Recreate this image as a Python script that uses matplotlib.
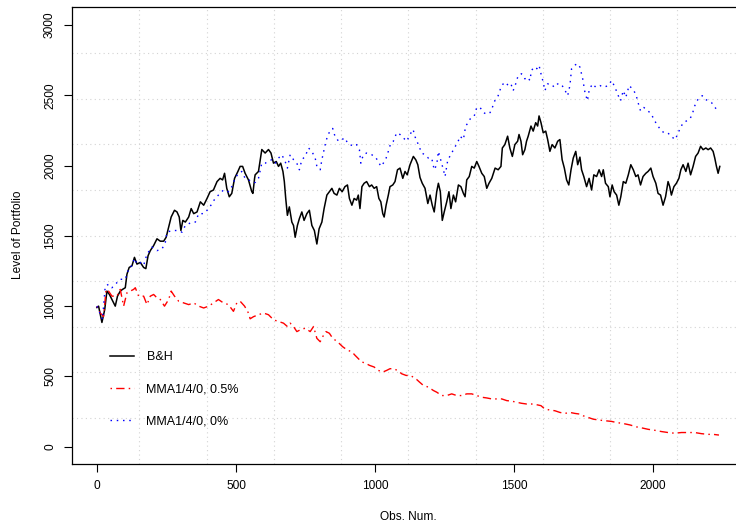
import matplotlib
matplotlib.use("Agg")
import matplotlib.pyplot as plt
import numpy as np

# ---- data: portfolio levels at selected observation numbers ----
bh_obs = [0, 6, 12, 18, 28, 36, 45, 54, 66, 74, 84, 92, 102, 108, 116, 126, 135, 144, 156, 168,
          176, 184, 192, 204, 216, 228, 240, 249, 258, 267, 279, 288, 296, 302, 309, 318, 330, 339,
          348, 360, 372, 384, 396, 407, 419, 432, 443, 452, 459, 467, 476, 485, 495, 507, 515, 524,
          533, 545, 552, 557, 561, 567, 569, 581, 593, 605, 617, 626, 635, 645, 653, 661, 669, 674,
          679, 685, 692, 701, 707, 713, 721, 728, 737, 745, 755, 764, 773, 782, 791, 799, 809, 817,
          827, 836, 845, 853, 863, 872, 882, 892, 901, 908, 917, 925, 934, 940, 946, 953, 961, 970,
          980, 988, 997, 1006, 1014, 1021, 1028, 1033, 1040, 1048, 1054, 1064, 1072, 1081, 1090,
          1100, 1108, 1116, 1126, 1138, 1147, 1154, 1162, 1170, 1180, 1190, 1198, 1206, 1213, 1222,
          1228, 1235, 1242, 1249, 1258, 1266, 1273, 1282, 1290, 1300, 1309, 1318, 1324, 1330, 1339,
          1348, 1357, 1366, 1374, 1384, 1393, 1402, 1410, 1420, 1432, 1443, 1453, 1458, 1467, 1477,
          1485, 1494, 1503, 1513, 1518, 1525, 1531, 1539, 1545, 1551, 1561, 1569, 1578, 1585, 1590,
          1597, 1605, 1614, 1621, 1629, 1637, 1647, 1657, 1665, 1673, 1681, 1689, 1697, 1705, 1713,
          1722, 1729, 1737, 1743, 1751, 1761, 1770, 1779, 1787, 1797, 1806, 1815, 1821, 1829, 1839,
          1845, 1853, 1860, 1869, 1877, 1884, 1893, 1902, 1911, 1920, 1929, 1938, 1946, 1955, 1964,
          1974, 1982, 1992, 2000, 2010, 2018, 2027, 2036, 2045, 2054, 2060, 2066, 2075, 2084, 2093,
          2100, 2108, 2118, 2126, 2135, 2144, 2153, 2162, 2171, 2180, 2190, 2198, 2207, 2216, 2222,
          2228, 2234, 2240]
bh_val = [990, 1000, 940, 884, 975, 1107, 1083, 1047, 1000, 1071, 1107, 1119, 1131, 1227, 1275, 1287,
          1347, 1299, 1311, 1275, 1267, 1359, 1395, 1431, 1479, 1462, 1462, 1490, 1562, 1634, 1682,
          1670, 1634, 1538, 1610, 1598, 1634, 1694, 1658, 1670, 1742, 1718, 1766, 1814, 1826, 1886,
          1909, 1898, 1945, 1838, 1778, 1802, 1909, 1958, 1994, 1994, 1945, 1898, 1850, 1814, 1802,
          1909, 1934, 1958, 2114, 2089, 2114, 2089, 2017, 2029, 1994, 2017, 1958, 1886, 1766, 1646,
          1706, 1598, 1574, 1490, 1574, 1622, 1670, 1610, 1658, 1682, 1574, 1538, 1442, 1550, 1598,
          1694, 1790, 1814, 1838, 1802, 1790, 1838, 1814, 1850, 1862, 1766, 1718, 1766, 1754, 1790,
          1694, 1850, 1874, 1886, 1850, 1862, 1838, 1850, 1766, 1742, 1658, 1634, 1718, 1790, 1850,
          1862, 1886, 1970, 1982, 1909, 1958, 1934, 2006, 2065, 2040, 2006, 1915, 1874, 1838, 1730,
          1790, 1718, 1670, 1814, 1874, 1814, 1610, 1670, 1742, 1814, 1694, 1790, 1742, 1862, 1850,
          1802, 1778, 1898, 1922, 1994, 1982, 2029, 1994, 1945, 1922, 1838, 1874, 1909, 1982, 1970,
          1994, 2125, 2149, 2209, 2125, 2065, 2149, 2173, 2221, 2173, 2077, 2113, 2173, 2209, 2281,
          2245, 2305, 2281, 2353, 2305, 2233, 2245, 2185, 2101, 2149, 2125, 2173, 2185, 2042, 1982,
          1898, 1862, 1970, 2053, 2101, 2006, 2060, 1970, 1922, 1850, 1909, 1826, 1934, 1922, 1970,
          1922, 1970, 1874, 1850, 1778, 1862, 1814, 1790, 1718, 1778, 1886, 1874, 1934, 2006, 1970,
          1922, 1934, 1862, 1922, 1945, 1958, 1982, 1922, 1874, 1802, 1790, 1718, 1778, 1886, 1850,
          1790, 1850, 1874, 1909, 1970, 2006, 1958, 2017, 1934, 1994, 2065, 2089, 2137, 2113, 2125,
          2113, 2125, 2101, 2053, 1994, 1945, 1994]

mma05_obs = [0, 12, 24, 33, 42, 54, 72, 84, 96, 108, 120, 132, 138, 150, 168, 180, 192, 204, 216,
             228, 243, 258, 267, 279, 294, 312, 330, 348, 366, 384, 402, 419, 437, 455, 473, 491,
             503, 515, 531, 545, 551, 563, 581, 599, 617, 635, 653, 671, 685, 695, 707, 719, 731,
             749, 767, 779, 791, 803, 812, 824, 836, 848, 865, 884, 901, 917, 928, 940, 952, 964,
             980, 997, 1012, 1028, 1042, 1054, 1066, 1081, 1096, 1112, 1126, 1138, 1150, 1160,
             1174, 1192, 1210, 1222, 1240, 1258, 1276, 1294, 1312, 1330, 1348, 1366, 1384, 1402,
             1420, 1438, 1456, 1474, 1492, 1510, 1527, 1545, 1563, 1581, 1597, 1611, 1629, 1647,
             1665, 1683, 1701, 1719, 1737, 1749, 1767, 1785, 1809, 1833, 1851, 1869, 1893, 1917,
             1941, 1964, 1982, 2006, 2030, 2054, 2078, 2102, 2126, 2150, 2174, 2198, 2216, 2237]
mma05_val = [1000, 951, 927, 1119, 1107, 1071, 1071, 1119, 1000, 1095, 1107, 1119, 1131, 1071, 1071,
             1011, 1071, 1083, 1059, 1047, 1000, 1047, 1107, 1071, 1035, 1023, 1011, 1023, 1000, 987,
             1000, 1023, 1047, 1023, 1011, 963, 1023, 1035, 1000, 951, 910, 925, 939, 951, 939, 903,
             891, 879, 855, 879, 855, 819, 831, 843, 819, 855, 771, 747, 783, 819, 807, 771, 747,
             711, 687, 675, 651, 627, 603, 596, 579, 567, 543, 531, 543, 555, 555, 543, 519, 507,
             507, 495, 478, 460, 436, 424, 400, 388, 364, 364, 376, 364, 364, 376, 376, 364, 352,
             347, 340, 340, 340, 328, 324, 316, 309, 304, 304, 299, 292, 268, 261, 256, 244, 237,
             244, 237, 232, 220, 208, 196, 189, 184, 180, 172, 165, 155, 141, 132, 124, 117, 108,
             101, 96, 101, 101, 101, 93, 88, 88, 83]

mma0_obs = [0, 12, 20, 30, 42, 54, 72, 84, 102, 116, 126, 135, 144, 156, 168, 180, 198, 216, 234,
            246, 252, 270, 288, 306, 318, 342, 354, 366, 384, 402, 414, 425, 437, 455, 473, 485,
            497, 509, 521, 533, 545, 560, 570, 581, 593, 605, 617, 629, 641, 653, 665, 677, 685,
            695, 707, 719, 728, 737, 749, 761, 773, 785, 791, 803, 809, 821, 829, 838, 848, 856,
            869, 881, 892, 901, 911, 923, 934, 944, 949, 958, 970, 988, 1000, 1012, 1021, 1030,
            1040, 1048, 1057, 1066, 1078, 1090, 1102, 1114, 1126, 1137, 1144, 1156, 1168, 1180,
            1192, 1204, 1213, 1222, 1228, 1238, 1246, 1252, 1262, 1273, 1285, 1297, 1306, 1318,
            1326, 1335, 1345, 1357, 1366, 1378, 1390, 1402, 1414, 1422, 1431, 1443, 1453, 1461,
            1470, 1479, 1489, 1497, 1506, 1515, 1527, 1539, 1549, 1557, 1563, 1573, 1582, 1590,
            1597, 1605, 1611, 1621, 1633, 1645, 1657, 1669, 1681, 1693, 1701, 1707, 1717, 1729,
            1737, 1747, 1755, 1764, 1771, 1783, 1794, 1809, 1823, 1839, 1851, 1863, 1875, 1883,
            1893, 1902, 1914, 1926, 1938, 1946, 1955, 1967, 1982, 1994, 2006, 2018, 2030, 2042,
            2054, 2062, 2072, 2081, 2087, 2096, 2108, 2120, 2132, 2141, 2150, 2158, 2168, 2177,
            2186, 2198, 2210, 2218, 2228, 2237]
mma0_val = [1000, 945, 905, 1143, 1155, 1131, 1167, 1191, 1191, 1275, 1287, 1340, 1300, 1310, 1290,
            1370, 1420, 1395, 1406, 1454, 1526, 1538, 1538, 1526, 1574, 1598, 1598, 1658, 1658, 1694,
            1730, 1766, 1790, 1826, 1814, 1850, 1909, 1945, 1958, 1909, 1900, 1880, 1880, 1909, 2017,
            2017, 2029, 2042, 2017, 2053, 2077, 2029, 1982, 2077, 2042, 2017, 1970, 2042, 2065, 2125,
            2101, 2053, 1994, 1970, 2042, 2149, 2209, 2245, 2264, 2209, 2173, 2185, 2197, 2161, 2149,
            2137, 2149, 2113, 2017, 2077, 2089, 2077, 2065, 2029, 1994, 2017, 2053, 2101, 2161, 2173,
            2233, 2221, 2197, 2173, 2221, 2257, 2205, 2149, 2089, 2077, 2053, 2053, 1970, 2006, 2101,
            2029, 1970, 1922, 2042, 2077, 2125, 2161, 2209, 2185, 2281, 2305, 2341, 2353, 2413, 2413,
            2377, 2365, 2377, 2413, 2461, 2497, 2557, 2581, 2593, 2569, 2581, 2533, 2581, 2641, 2653,
            2617, 2629, 2605, 2677, 2701, 2689, 2713, 2653, 2593, 2533, 2581, 2581, 2557, 2581, 2581,
            2545, 2497, 2569, 2689, 2713, 2725, 2700, 2617, 2521, 2461, 2545, 2581, 2557, 2569, 2557,
            2569, 2605, 2557, 2497, 2461, 2533, 2485, 2569, 2545, 2509, 2449, 2389, 2413, 2389, 2365,
            2317, 2281, 2245, 2233, 2233, 2209, 2197, 2185, 2221, 2257, 2305, 2317, 2329, 2365, 2425,
            2461, 2485, 2497, 2473, 2461, 2449, 2425, 2401, 2389]

series_labels = ["B&H", "MMA1/4/0, 0.5%", "MMA1/4/0, 0%"]
x_ticks = [0, 500, 1000, 1500, 2000]
y_ticks = [0, 500, 1000, 1500, 2000, 2500, 3000]

# ---- figure ----
plt.rcParams["font.family"] = ["Liberation Sans", "DejaVu Sans"]
W, H = 736, 527
fig = plt.figure(figsize=(W / 100, H / 100), dpi=100)

left_px, right_px, top_px, bottom_px = 72, 744.7, 7.4, 463.6
ax = fig.add_axes([left_px / W, 1 - bottom_px / H,
                   (right_px - left_px) / W, (bottom_px - top_px) / H])

n_obs = bh_obs[-1]
pad_x = 0.04 * n_obs
ax.set_xlim(-pad_x, n_obs + pad_x)
ax.set_ylim(-120, 3125)

# dotted grid dividing the plotting region into 10 x 10 cells
x0, x1 = ax.get_xlim()
y0, y1 = ax.get_ylim()
for k in range(1, 10):
    ax.axvline(x0 + k * (x1 - x0) / 10, color="#d3d3d3", lw=0.8, dashes=(1, 3), zorder=0)
    ax.axhline(y0 + k * (y1 - y0) / 10, color="#d3d3d3", lw=0.8, dashes=(1, 3), zorder=0)

ax.plot(bh_obs, bh_val, color="black", lw=1.1, label=series_labels[0], zorder=3)
ax.plot(mma05_obs, mma05_val, color="red", lw=1.0, dashes=(1.1, 3, 6, 3),
        label=series_labels[1], zorder=4)
ax.plot(mma0_obs, mma0_val, color="blue", lw=1.0, dashes=(1.1, 3.4),
        label=series_labels[2], zorder=5)

for s in ax.spines.values():
    s.set_linewidth(0.9)
    s.set_color("black")

ax.set_xticks(x_ticks)
ax.set_yticks(y_ticks)
ax.tick_params(direction="out", length=5.5, width=0.8, labelsize=8.6, pad=6)
for lab in ax.get_yticklabels():
    lab.set_rotation(90)
    lab.set_va("center")

fig.text(408 / W, 1 - 517 / H, "Obs. Num.", ha="center", va="center", fontsize=8.6)
fig.text(18 / W, 1 - 235 / H, "Level of Portfolio", ha="center", va="center",
         rotation=90, fontsize=8.6)

leg = ax.legend(loc="upper left", bbox_to_anchor=(104 / W, 1 - 345 / H),
                bbox_transform=fig.transFigure, frameon=False, fontsize=9,
                handlelength=1.9, handletextpad=1.0, labelspacing=1.6, borderpad=0)

fig.savefig("out.png", dpi=100)
